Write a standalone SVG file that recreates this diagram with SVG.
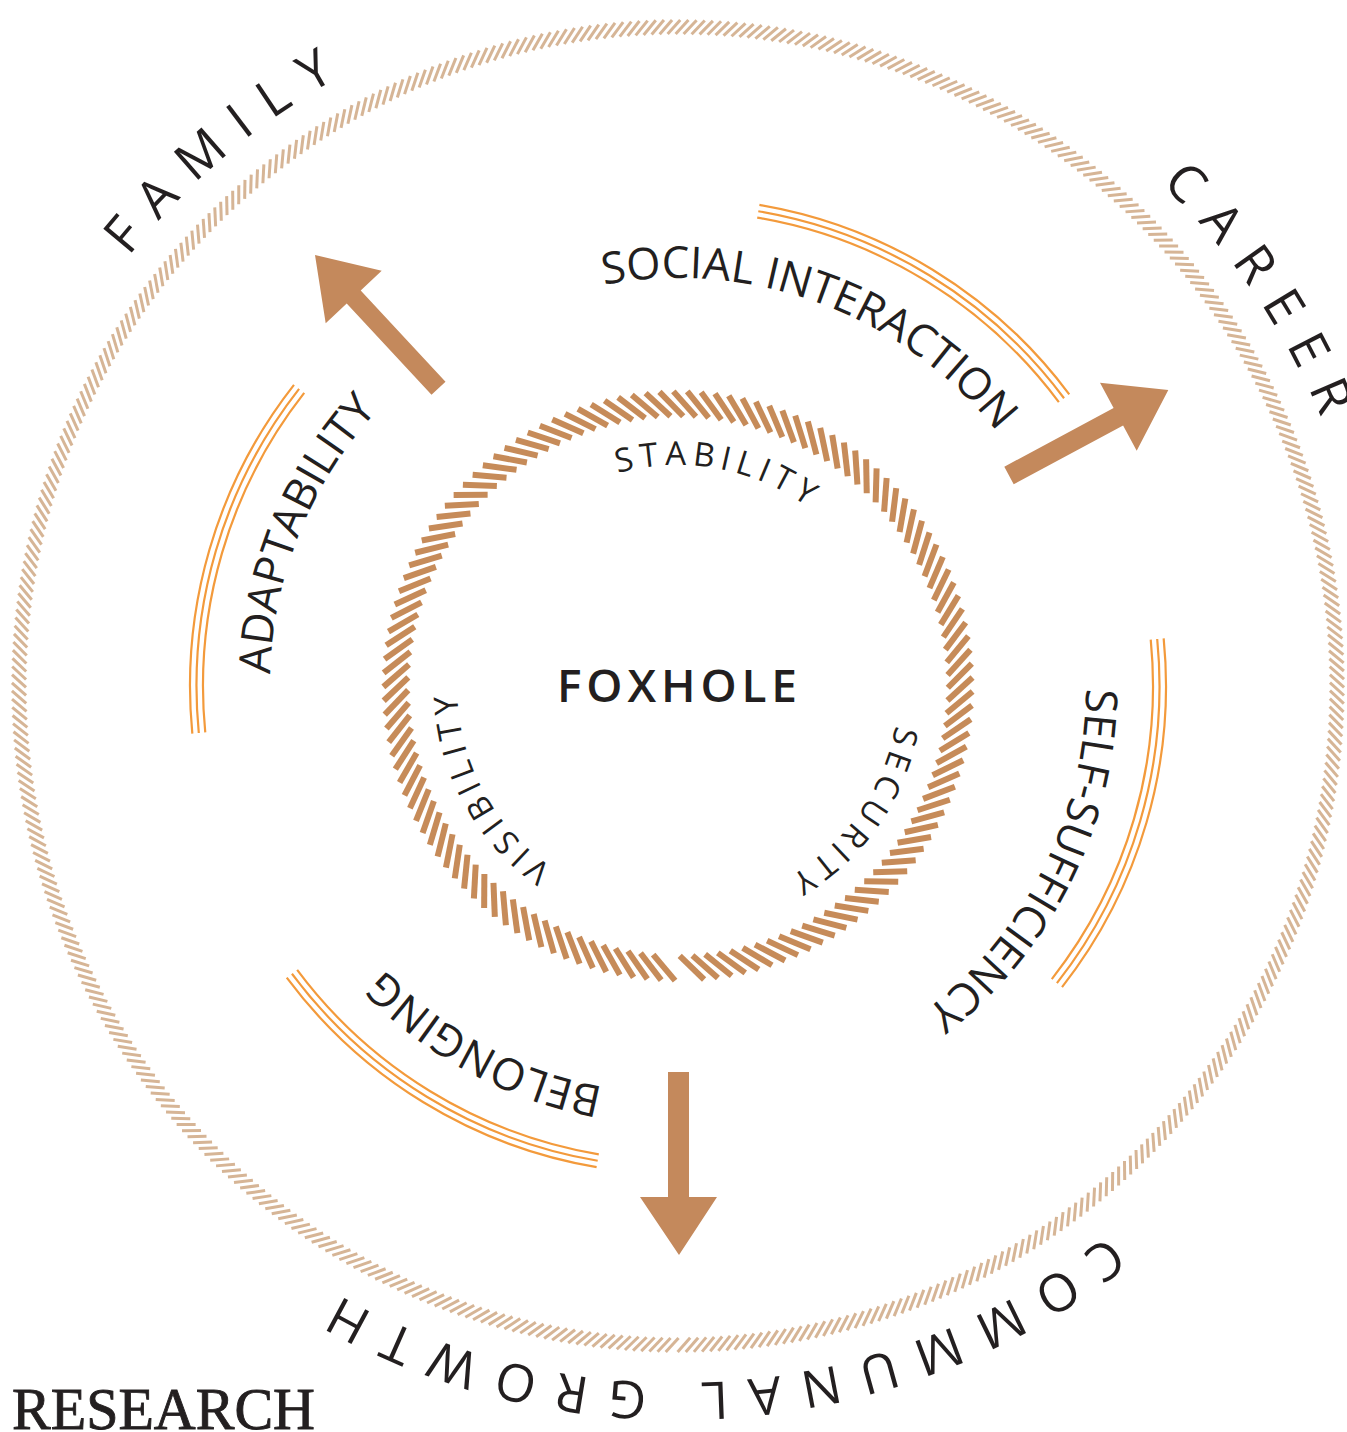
<svg xmlns="http://www.w3.org/2000/svg" xmlns:xlink="http://www.w3.org/1999/xlink" width="1347" height="1432" viewBox="0 0 1347 1432">
<style>
.od{fill:#d6b596}
.idash{fill:#c68b59}
.tri{fill:none;stroke:#f39a3b;stroke-width:2.2}
.arrow{fill:#c4895c}
.t{font-family:"Open Sans","Noto Sans","Liberation Sans",sans-serif;fill:#231f20;text-anchor:middle}
.outer{font-size:52px;letter-spacing:19.5px}
.mid{font-size:44px}
.inner{font-size:33px;letter-spacing:6px}
</style>
<defs>
<path id="pO" d="M -19,686 A 697 697 0 0 1 1375,686"/>
<path id="pM" d="M 270,686 A 408 408 0 0 1 1086,686"/>
<path id="pI" d="M 457,686 A 221 221 0 0 1 899,686"/>
<rect id="o0" class="od" x="1327.5" y="684.5" width="19" height="3" transform="rotate(42 1337 686)"/>
<g id="o1"><use href="#o0"/><use href="#o0" transform="rotate(0.7025 678 686)"/></g>
<g id="o2"><use href="#o1"/><use href="#o1" transform="rotate(1.405 678 686)"/></g>
<g id="o3"><use href="#o2"/><use href="#o2" transform="rotate(2.81 678 686)"/></g>
<g id="o4"><use href="#o3"/><use href="#o3" transform="rotate(5.62 678 686)"/></g>
<g id="o5"><use href="#o4"/><use href="#o4" transform="rotate(11.24 678 686)"/></g>
<g id="o6"><use href="#o5"/><use href="#o5" transform="rotate(22.48 678 686)"/></g>
<g id="o7"><use href="#o6"/><use href="#o6" transform="rotate(44.96 678 686)"/></g>
<g id="o8"><use href="#o7"/><use href="#o7" transform="rotate(89.92 678 686)"/></g>
<g id="o9"><use href="#o8"/><use href="#o8" transform="rotate(179.84 678 686)"/></g>
<rect id="i0" class="idash" x="943" y="683" width="34" height="6" transform="rotate(-43 960 686)"/>
<g id="i1"><use href="#i0"/><use href="#i0" transform="rotate(2.705 678 686)"/></g>
<g id="i2"><use href="#i1"/><use href="#i1" transform="rotate(5.41 678 686)"/></g>
<g id="i3"><use href="#i2"/><use href="#i2" transform="rotate(10.82 678 686)"/></g>
<g id="i4"><use href="#i3"/><use href="#i3" transform="rotate(21.64 678 686)"/></g>
<g id="i5"><use href="#i4"/><use href="#i4" transform="rotate(43.28 678 686)"/></g>
<g id="i6"><use href="#i5"/><use href="#i5" transform="rotate(86.56 678 686)"/></g>
<g id="i7"><use href="#i6"/><use href="#i6" transform="rotate(173.12 678 686)"/></g>
<g id="tri3">
<path class="tri" d="M 1166,686 A 488 488 0 0 1 1030.81,1023.15"/>
<path class="tri" d="M 1159.5,686 A 481.5 481.5 0 0 1 1026.11,1018.66"/>
<path class="tri" d="M 1153,686 A 475 475 0 0 1 1021.41,1014.17"/>
</g>
</defs>

<g id="outer-ring">
<use href="#o9" transform="rotate(90.51 678 686)"/>
<text class="t outer" transform="rotate(320.1 678 686)"><textPath href="#pO" startOffset="50%">FAMILY</textPath></text>
<text class="t outer" transform="rotate(56.4 678 686)"><textPath href="#pO" startOffset="50%">CAREER</textPath></text>
<text class="t outer" transform="rotate(176.3 678 686)"><textPath href="#pO" startOffset="50%">COMMUNAL GROWTH</textPath></text>
</g>

<g id="social-interaction">
<use href="#tri3" transform="rotate(279.6 678 686)"/>
<text class="t mid" transform="rotate(20.5 678 686)"><textPath href="#pM" startOffset="50%">SOCIAL INTERACTION</textPath></text>
</g>
<g id="adaptability">
<use href="#tri3" transform="rotate(174.4 678 686)"/>
<text class="t mid" transform="rotate(292.1 678 686)"><textPath href="#pM" startOffset="50%">ADAPTABILITY</textPath></text>
</g>
<g id="self-sufficiency">
<use href="#tri3" transform="rotate(354.4 678 686)"/>
<text class="t mid" transform="rotate(116.5 678 686)"><textPath href="#pM" startOffset="50%">SELF-SUFFICIENCY</textPath></text>
</g>
<g id="belonging">
<use href="#tri3" transform="rotate(99.6 678 686)"/>
<text class="t mid" transform="rotate(208.3 678 686)"><textPath href="#pM" startOffset="50%">BELONGING</textPath></text>
</g>

<g id="foxhole">
<use href="#i7" transform="rotate(92.82 678 686)"/>
<use href="#i2" transform="rotate(79.06 678 686)"/>
<text class="t inner" transform="rotate(10.7 678 686)"><textPath href="#pI" startOffset="50%">STABILITY</textPath></text>
<text class="t inner" transform="rotate(125.6 678 686)"><textPath href="#pI" startOffset="50%">SECURITY</textPath></text>
<text class="t inner" transform="rotate(241.9 678 686)"><textPath href="#pI" startOffset="50%">VISIBILITY</textPath></text>
<text x="557" y="702" font-family="Open Sans, Noto Sans, sans-serif" font-weight="600" font-size="46" fill="#231f20" textLength="240" lengthAdjust="spacing">FOXHOLE</text>
</g>

<g id="connectors">
<polygon class="arrow" points="445.5,381.8 360.7,290.5 381.7,270.7 315,255 325.7,323.3 346.7,303.5 431.5,394.8"/>
<polygon class="arrow" points="1004.3,466.7 1113.6,407.9 1100,382.7 1168.3,390 1136.7,450.7 1123.1,425.5 1013.7,484.3"/>
<polygon class="arrow" points="668,1072 689,1072 689,1197 717,1197 679,1255 640,1197 668,1197"/>
</g>

<g id="label">
<text x="12" y="1429" font-family="Liberation Serif, serif" font-size="60" fill="#231f20" stroke="#231f20" stroke-width="0.9" textLength="303" lengthAdjust="spacingAndGlyphs">RESEARCH</text>
</g>
</svg>
